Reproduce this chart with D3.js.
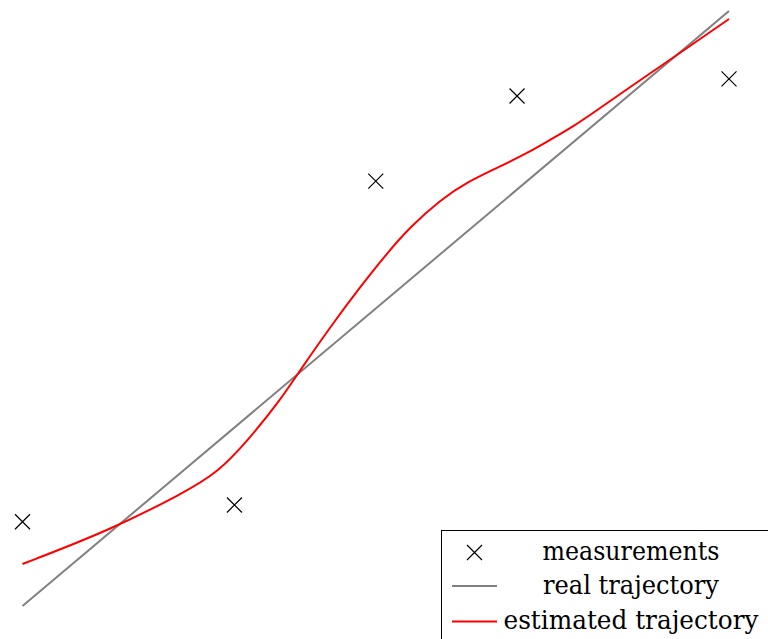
<!DOCTYPE html>
<html>
<head>
<meta charset="utf-8">
<script src="https://cdn.jsdelivr.net/npm/d3@7"></script>
<style>
  html, body { margin: 0; padding: 0; background: #fff; overflow: hidden; }
  svg { display: block; }
  .legend-label { font-family: "DejaVu Serif", "Liberation Serif", serif; }
</style>
</head>
<body>
<svg id="chart" width="768" height="639"></svg>
<script>
// Time axis and position axis both run from 0 to 5.
const xDomain = [0, 5];
const yDomain = [0, 5];

// Noisy position measurements.
const measureT = [0, 1.5, 2.5, 3.5, 5];
const measureY = [0.708, 0.849, 3.571, 4.286, 4.429];

// True trajectory (straight line).
const realT = [0, 5];
const realY = [0, 5];

// Estimated (smoothed) trajectory.
const estT = [0.0, 0.622, 1.139, 1.379, 1.598, 1.825, 1.966, 2.178, 2.390, 2.581,
              2.744, 2.956, 3.147, 3.379, 3.592, 3.733, 3.896, 4.051, 4.320, 4.632, 5.0];
const estY = [0.353, 0.639, 0.950, 1.118, 1.395, 1.731, 1.983, 2.345, 2.681, 2.966,
              3.185, 3.412, 3.563, 3.692, 3.818, 3.916, 4.028, 4.154, 4.378, 4.630, 4.933];

// Legend entries.
const legendLabels = ["measurements", "real trajectory", "estimated trajectory"];
const legendKinds = ["marker", "real", "est"];

const svg = d3.select("#chart");
svg.append("rect").attr("width", 768).attr("height", 639).attr("fill", "#fff");

const x = d3.scaleLinear().domain(xDomain).range([22.5, 729]);
const y = d3.scaleLinear().domain(yDomain).range([606, 11]);

const line = d3.line()
  .x(d => x(d[0]))
  .y(d => y(d[1]));

// real trajectory
svg.append("path")
  .datum(realT.map((t, i) => [t, realY[i]]))
  .attr("d", line)
  .attr("fill", "none")
  .attr("stroke", "#808080")
  .attr("stroke-width", 2);

// estimated trajectory
svg.append("path")
  .datum(estT.map((t, i) => [t, estY[i]]))
  .attr("d", line.curve(d3.curveBasis))
  .attr("fill", "none")
  .attr("stroke", "#ff0000")
  .attr("stroke-width", 2);

// cross marker path centred at (cx, cy)
function cross(cx, cy, r) {
  return `M${cx - r},${cy - r}L${cx + r},${cy + r}M${cx - r},${cy + r}L${cx + r},${cy - r}`;
}

svg.append("g")
  .selectAll("path")
  .data(measureT.map((t, i) => [t, measureY[i]]))
  .join("path")
  .attr("d", d => cross(x(d[0]), y(d[1]), 7.5))
  .attr("fill", "none")
  .attr("stroke", "#000")
  .attr("stroke-width", 1.2);

// legend
const lg = svg.append("g").attr("transform", "translate(441.5,530.5)");
lg.append("rect")
  .attr("width", 400).attr("height", 200)
  .attr("fill", "#fff").attr("stroke", "#000").attr("stroke-width", 1);

const rowY = [22, 55.5, 91];
const textWidths = [177, 176, 255];
legendKinds.forEach((k, i) => {
  const cy = rowY[i];
  if (k === "marker") {
    lg.append("path").attr("d", cross(33, cy, 7.5))
      .attr("fill", "none").attr("stroke", "#000").attr("stroke-width", 1.2);
  } else {
    lg.append("line")
      .attr("x1", 10.5).attr("x2", 55.5).attr("y1", cy).attr("y2", cy)
      .attr("stroke", k === "real" ? "#808080" : "#ff0000")
      .attr("stroke-width", 2);
  }
  lg.append("text")
    .attr("class", "legend-label")
    .attr("x", 189.5).attr("y", cy + 7.5)
    .attr("text-anchor", "middle")
    .attr("font-size", 26)
    .attr("textLength", textWidths[i])
    .attr("lengthAdjust", "spacingAndGlyphs")
    .attr("fill", "#000")
    .text(legendLabels[i]);
});
</script>
</body>
</html>
